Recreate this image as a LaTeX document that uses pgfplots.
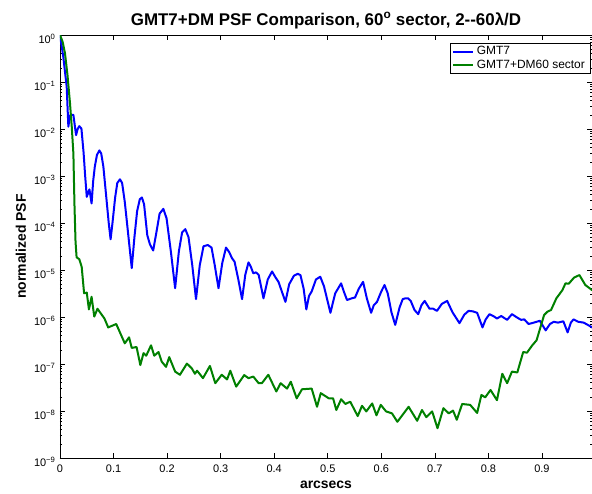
\documentclass[border=0pt]{standalone}
\usepackage{fontspec}
\setmainfont{Liberation Sans}
\usepackage{pgfplots}
\pgfplotsset{compat=1.18}
\definecolor{mblue}{rgb}{0,0,1}
\definecolor{mgreen}{rgb}{0,0.5,0}
\pgfplotstableread[row sep=\\]{
x y\\
0 1\\
0.006 0.355\\
0.0125 0.0794\\
0.0156 0.0112\\
0.0185 0.019\\
0.020 0.020\\
0.025 0.020\\
0.030 0.0074\\
0.033 0.010\\
0.036 0.0115\\
0.040 0.0102\\
0.044 3.2e-3\\
0.047 1.0e-3\\
0.050 3.6e-4\\
0.055 5.2e-4\\
0.059 2.6e-4\\
0.062 7.9e-4\\
0.065 1.58e-3\\
0.069 2.8e-3\\
0.0735 3.5e-3\\
0.077 3.0e-3\\
0.081 1.58e-3\\
0.086 4.0e-4\\
0.091 1.0e-4\\
0.0945 4.5e-5\\
0.098 1.0e-4\\
0.103 3.5e-4\\
0.107 7.1e-4\\
0.112 8.5e-4\\
0.116 7.1e-4\\
0.121 2.8e-4\\
0.127 6.3e-5\\
0.134 1.1e-5\\
0.139 5.0e-5\\
0.144 1.78e-4\\
0.149 3.2e-4\\
0.153 3.5e-4\\
0.157 2.5e-4\\
0.163 5.5e-5\\
0.168 3.5e-5\\
0.174 2.6e-5\\
0.180 6.3e-5\\
0.186 1.58e-4\\
0.193 2.0e-4\\
0.199 1.26e-4\\
0.207 2.5e-5\\
0.215 4.1e-6\\
0.222 2.5e-5\\
0.228 6.3e-5\\
0.234 7.4e-5\\
0.240 5.0e-5\\
0.247 1.26e-5\\
0.254 2.4e-6\\
0.261 1.26e-5\\
0.268 3.2e-5\\
0.276 3.4e-5\\
0.283 3.0e-5\\
0.289 1.26e-5\\
0.296 4.1e-6\\
0.303 1.4e-5\\
0.310 3.0e-5\\
0.316 2.4e-5\\
0.321 1.8e-5\\
0.326 1.5e-5\\
0.333 6.3e-6\\
0.340 2.4e-6\\
0.346 7.9e-6\\
0.352 1.45e-5\\
0.356 1.2e-5\\
0.361 8.5e-6\\
0.366 8.9e-6\\
0.371 7.9e-6\\
0.380 2.5e-6\\
0.388 6.3e-6\\
0.396 9.3e-6\\
0.402 7.1e-6\\
0.408 5.6e-6\\
0.421 2.1e-6\\
0.428 5.0e-6\\
0.437 7.6e-6\\
0.444 8.3e-6\\
0.449 7.8e-6\\
0.455 4.0e-6\\
0.460 1.45e-6\\
0.465 2.8e-6\\
0.470 3.5e-6\\
0.478 6.3e-6\\
0.486 7.2e-6\\
0.493 4.5e-6\\
0.505 1.23e-6\\
0.514 3.2e-6\\
0.525 5.2e-6\\
0.530 3.5e-6\\
0.536 2.3e-6\\
0.545 2.5e-6\\
0.551 2.6e-6\\
0.558 4.0e-6\\
0.566 5.6e-6\\
0.573 2.5e-6\\
0.581 1.23e-6\\
0.586 1.78e-6\\
0.592 2.1e-6\\
0.600 3.5e-6\\
0.606 4.8e-6\\
0.612 3.2e-6\\
0.619 1.26e-6\\
0.626 6.8e-7\\
0.634 1.58e-6\\
0.640 2.4e-6\\
0.645 2.5e-6\\
0.650 2.5e-6\\
0.655 2.2e-6\\
0.662 1.41e-6\\
0.669 1.15e-6\\
0.675 1.78e-6\\
0.681 2.2e-6\\
0.686 1.78e-6\\
0.690 1.5e-6\\
0.697 1.5e-6\\
0.704 1.35e-6\\
0.713 1.9e-6\\
0.723 2.2e-6\\
0.733 1.26e-6\\
0.746 7.4e-7\\
0.755 1.12e-6\\
0.763 1.35e-6\\
0.771 1.32e-6\\
0.779 1.23e-6\\
0.789 6.0e-7\\
0.795 8.9e-7\\
0.802 1.15e-6\\
0.809 1.05e-6\\
0.816 9.3e-7\\
0.824 1.05e-6\\
0.835 8.7e-7\\
0.844 1.15e-6\\
0.852 1.0e-6\\
0.861 8.7e-7\\
0.867 8.9e-7\\
0.875 7.1e-7\\
0.885 7.6e-7\\
0.896 8.3e-7\\
0.907 5.2e-7\\
0.915 7.1e-7\\
0.922 7.9e-7\\
0.930 7.6e-7\\
0.940 8.1e-7\\
0.948 4.7e-7\\
0.954 7.6e-7\\
0.959 8.9e-7\\
0.968 7.9e-7\\
0.978 7.6e-7\\
0.994 6.0e-7\\
}\blue
\pgfplotstableread[row sep=\\]{
x y\\
0 1\\
0.005 0.71\\
0.0093 0.41\\
0.014 0.14\\
0.0187 3.5e-2\\
0.022 1.1e-2\\
0.025 3.0e-3\\
0.027 2.5e-4\\
0.029 4.0e-5\\
0.031 1.86e-5\\
0.036 1.7e-5\\
0.0405 1.17e-5\\
0.045 3.2e-6\\
0.050 3.3e-6\\
0.054 1.45e-6\\
0.059 2.7e-6\\
0.064 1.02e-6\\
0.070 1.5e-6\\
0.076 1.2e-6\\
0.083 9.3e-7\\
0.090 6.0e-7\\
0.105 7.1e-7\\
0.121 2.75e-7\\
0.129 3.7e-7\\
0.134 2.2e-7\\
0.143 2.3e-7\\
0.150 9.5e-8\\
0.156 1.7e-7\\
0.161 1.5e-7\\
0.170 2.5e-7\\
0.176 1.5e-7\\
0.184 1.8e-7\\
0.190 1.12e-7\\
0.198 8.7e-8\\
0.204 1.4e-7\\
0.215 6.9e-8\\
0.224 5.9e-8\\
0.237 1.02e-7\\
0.246 8.1e-8\\
0.252 6.2e-8\\
0.256 7.2e-8\\
0.267 5.0e-8\\
0.280 9.1e-8\\
0.290 3.9e-8\\
0.302 5.9e-8\\
0.312 4.7e-8\\
0.318 7.2e-8\\
0.329 3.3e-8\\
0.344 5.8e-8\\
0.352 5.0e-8\\
0.361 5.4e-8\\
0.371 3.9e-8\\
0.377 3.9e-8\\
0.389 5.9e-8\\
0.404 2.6e-8\\
0.412 3.9e-8\\
0.424 3.0e-8\\
0.431 4.2e-8\\
0.442 1.86e-8\\
0.452 2.9e-8\\
0.470 3.0e-8\\
0.480 1.23e-8\\
0.487 2.4e-8\\
0.502 1.86e-8\\
0.510 1.86e-8\\
0.516 1.05e-8\\
0.525 1.78e-8\\
0.533 1.41e-8\\
0.542 1.58e-8\\
0.556 7.8e-9\\
0.564 1.29e-8\\
0.572 9.8e-9\\
0.583 1.45e-8\\
0.591 8.1e-9\\
0.599 1.35e-8\\
0.609 9.8e-9\\
0.620 8.9e-9\\
0.630 5.9e-9\\
0.651 1.23e-8\\
0.667 6.2e-9\\
0.676 1.05e-8\\
0.684 7.4e-9\\
0.695 9.8e-9\\
0.705 4.3e-9\\
0.716 1.15e-8\\
0.726 8.9e-9\\
0.734 1.02e-8\\
0.741 6.5e-9\\
0.751 1.41e-8\\
0.766 1.35e-8\\
0.779 9.1e-9\\
0.787 2.2e-8\\
0.794 1.95e-8\\
0.804 2.8e-8\\
0.816 1.7e-8\\
0.826 6.2e-8\\
0.835 3.9e-8\\
0.844 6.9e-8\\
0.854 6.6e-8\\
0.865 1.8e-7\\
0.872 1.74e-7\\
0.882 2.5e-7\\
0.890 3.2e-7\\
0.904 1.1e-6\\
0.910 1.29e-6\\
0.917 1.41e-6\\
0.927 2.5e-6\\
0.938 3.7e-6\\
0.944 5.2e-6\\
0.950 5.1e-6\\
0.960 6.9e-6\\
0.970 7.8e-6\\
0.981 4.8e-6\\
0.994 3.7e-6\\
}\green
\begin{document}
\begin{tikzpicture}
\useasboundingbox (-60bp,-36bp) rectangle (532bp,458bp);
\begin{axis}[
  scale only axis, width=532bp, height=423bp,
  at={(0,0)}, anchor=south west,
  xmin=0, xmax=0.9935, ymin=1e-9, ymax=1, ymode=log,
  axis line style={line width=0.7bp},
  every tick/.style={black, line width=0.5bp},
  major tick length=5bp, minor tick length=2.5bp,
  tick align=inside,
  xtick={0,0.1,0.2,0.3,0.4,0.5,0.6,0.7,0.8,0.9},
  xticklabels={0,0.1,0.2,0.3,0.4,0.5,0.6,0.7,0.8,0.9},
  ytick={1e-9,1e-8,1e-7,1e-6,1e-5,1e-4,1e-3,1e-2,1e-1,1},
  yticklabels={10\textsuperscript{−9},10\textsuperscript{−8},10\textsuperscript{−7},10\textsuperscript{−6},10\textsuperscript{−5},10\textsuperscript{−4},10\textsuperscript{−3},10\textsuperscript{−2},10\textsuperscript{−1},10\textsuperscript{0}},
  ticklabel style={font=\fontsize{11}{13}\selectfont},
  xticklabel style={yshift=-3.5bp},
  yticklabel style={xshift=-1bp, yshift=-4bp},
  title={GMT7+DM PSF Comparison, 60\textsuperscript{o} sector, 2-{}-60λ/D},
  title style={font=\fontsize{17}{20}\selectfont\bfseries, at={(axis description cs:0.5,1.0095)}, anchor=base},
  xlabel={arcsecs}, ylabel={normalized PSF},
  label style={font=\fontsize{14}{16}\selectfont\bfseries},
  xlabel style={at={(axis description cs:0.5,-0.0709)}, anchor=base},
  ylabel style={at={(axis description cs:-0.0733,0.5)}, anchor=center},
  legend style={at={(axis description cs:0.9965,0.981)}, anchor=north east,
    font=\fontsize{12}{14}\selectfont, draw=black, line width=0.6bp,
    inner xsep=2.5bp, inner ysep=1.5bp, row sep=0bp,
    nodes={inner ysep=1bp, inner xsep=2.5bp, text height=8.8bp, text depth=2.7bp}},
  legend cell align=left,
  legend image code/.code={\draw[#1, line width=2bp] (0bp,0bp) -- (20bp,0bp);},
]
\addplot[mblue, line width=2bp, line join=round] table {\blue};
\addlegendentry{GMT7}
\addplot[mgreen, line width=2bp, line join=round] table {\green};
\addlegendentry{GMT7+DM60 sector}
\end{axis}
\end{tikzpicture}
\end{document}
